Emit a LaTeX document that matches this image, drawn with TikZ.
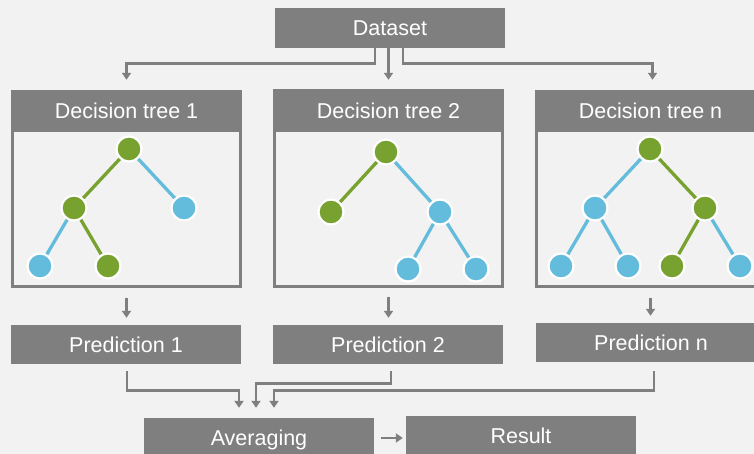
\documentclass[tikz,border=0pt]{standalone}
\usepackage{fontspec}
\setmainfont{Liberation Sans}
\usetikzlibrary{arrows.meta}

\definecolor{boxgray}{HTML}{7F7F7F}
\definecolor{paper}{HTML}{F2F2F2}
\definecolor{leafgreen}{HTML}{78A22F}
\definecolor{leafblue}{HTML}{63BCDB}

\begin{document}
\begin{tikzpicture}[x=1pt, y=-1pt,
        box/.style={fill=boxgray, text=white, inner sep=0pt, minimum width=230pt,
            minimum height=40pt, text height=15pt, text depth=0pt,
            font=\fontsize{21.5}{25}\selectfont},
        frame/.style={draw=boxgray, line width=3pt, outer sep=0pt,
            minimum width=228pt, minimum height=195pt},
        conn/.style={draw=boxgray, line width=2.7pt, -{Triangle[width=9pt,length=7pt]}},
        gnode/.style={circle, fill=leafgreen, draw=white, line width=2.2pt,
            minimum size=25pt, inner sep=0pt},
        bnode/.style={gnode, fill=leafblue},
        gedge/.style={draw=leafgreen, line width=3.3pt},
        bedge/.style={draw=leafblue, line width=3.3pt}]
        \useasboundingbox (0,0) rectangle (754,454);
        \fill[paper] (0,0) rectangle (754,454);
        \clip (0,0) rectangle (754,454);

        % Dataset
        \node[box] (data) at (390,28) {Dataset};

        % Tree frames with headers
        \foreach \i/\x/\y in {1/126.5/189, 2/388.5/188.5, n/650.5/189} {
            \node[frame] (tree\i) at (\x,\y) {};
            \node[box, minimum width=231pt, minimum height=42pt] (hd\i) at (\x,111) {Decision tree \i};
        }

        % Decision tree 1
        \node[gnode] (t1r) at (129,149) {};
        \node[gnode] (t1a) at (74,208) {};
        \node[bnode] (t1b) at (184,208) {};
        \node[bnode] (t1c) at (40,266) {};
        \node[gnode] (t1d) at (108,266) {};

        % Decision tree 2
        \node[gnode] (t2r) at (386,152) {};
        \node[gnode] (t2a) at (331,212) {};
        \node[bnode] (t2b) at (440,212) {};
        \node[bnode] (t2c) at (408,269) {};
        \node[bnode] (t2d) at (476,269) {};

        % Decision tree n
        \node[gnode] (tnr) at (650,149) {};
        \node[bnode] (tna) at (595,208) {};
        \node[gnode] (tnb) at (705,208) {};
        \node[bnode] (tnc) at (561,266) {};
        \node[bnode] (tnd) at (628,266) {};
        \node[gnode] (tne) at (672,266) {};
        \node[bnode] (tnf) at (740,266) {};

        \foreach \a/\b/\s in {t1r/t1a/gedge, t1r/t1b/bedge, t1a/t1c/bedge, t1a/t1d/gedge,
                t2r/t2a/gedge, t2r/t2b/bedge, t2b/t2c/bedge, t2b/t2d/bedge,
                tnr/tna/bedge, tnr/tnb/gedge, tna/tnc/bedge, tna/tnd/bedge,
                tnb/tne/gedge, tnb/tnf/bedge}
            \draw[\s] (\a) -- (\b);

        % Predictions
        \node[box, minimum height=39pt] (pred1) at (126,344.5) {Prediction 1};
        \node[box, minimum height=39pt] (pred2) at (388,344.5) {Prediction 2};
        \node[box, minimum height=39pt] (predn) at (651,342.5) {Prediction n};

        % Averaging and result
        \node[box] (avg) at (259,438) {Averaging};
        \node[box] (res) at (521,436) {Result};

        % Dataset to trees
        \draw[conn] ([xshift=-15pt]data.south) -- ++(0,15) -| ([yshift=10pt]hd1.north);
        \draw[conn] (data.south -| hd2.north) -- ([yshift=10pt]hd2.north);
        \draw[conn] ([xshift=13pt]data.south) -- ++(0,15) -| ([xshift=2pt,yshift=10pt]hdn.north);

        % Trees to predictions
        \foreach \i in {1,2,n}
            \draw[conn] ([yshift=-11pt]tree\i.south) -- ([yshift=7pt]tree\i.south |- pred\i.north);

        % Predictions to averaging
        \draw[conn] ([xshift=1pt,yshift=-7pt]pred1.south) -- ++(0,19) -| ([xshift=-20pt,yshift=10pt]avg.north);
        \draw[conn] ([xshift=3pt,yshift=-7pt]pred2.south) -- ++(0,12) -| ([xshift=-3pt,yshift=10pt]avg.north);
        \draw[conn] ([xshift=3pt,yshift=-9pt]predn.south) -- ++(0,19) -| ([xshift=15pt,yshift=10pt]avg.north);

        % Averaging to result
        \draw[conn] ([xshift=7pt]avg.east) -- ([xshift=-3pt]avg.east -| res.west);
\end{tikzpicture}
\end{document}
